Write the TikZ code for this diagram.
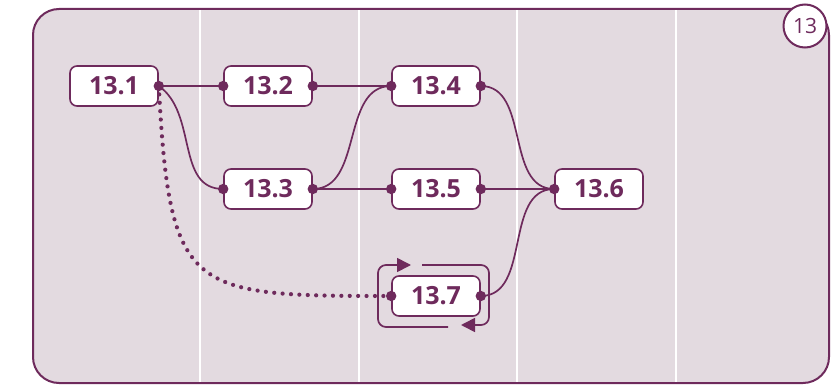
\documentclass[tikz,border=0pt]{standalone}
\usepackage{fontspec}
\setmainfont{Open Sans}
\usetikzlibrary{arrows.meta,positioning}
\definecolor{plum}{RGB}{110,42,92}
\definecolor{lane}{RGB}{227,218,224}

\tikzset{
  task/.style={draw=plum, line width=0.8pt, fill=white, rounded corners=3.5pt,
    minimum width=44pt, minimum height=20pt, inner sep=0pt,
    font=\fontsize{12.5}{14}\selectfont\bfseries, text=plum},
  link/.style={draw=plum, line width=0.85pt},
  loop/.style={draw=plum, line width=0.85pt, rounded corners=4pt,
    -{Triangle[length=7pt,width=7pt]}},
}

\begin{document}
\begin{tikzpicture}[x=0.5pt,y=-0.5pt]
  \useasboundingbox (0,0) rectangle (834,385);

  % panel and lanes
  \fill[lane, rounded corners=13pt] (33,9) rectangle (829,383);
  \foreach \lx in {200,359,517,676}
    \draw[white, line width=1pt] (\lx,9) -- (\lx,383);
  \draw[plum, line width=1pt, rounded corners=13pt] (33,9) rectangle (829,383);
  \node[circle, draw=plum, line width=1pt, fill=white, minimum size=21.5pt,
    inner sep=0pt, font=\fontsize{10.5}{12}\selectfont, text=plum] (tag) at (805,26) {13};

  % tasks
  \node[task] (t1) at (114,86) {13.1};
  \node[task] (t2) at (268,86) {13.2};
  \node[task] (t4) at (436,86) {13.4};
  \node[task] (t3) at (268,189) {13.3};
  \node[task] (t5) at (436,189) {13.5};
  \node[task] (t6) at (599,189) {13.6};
  \node[task] (t7) at (436,296) {13.7};

  % links
  \draw[link] (t1.east) -- (t2.west);
  \draw[link] (t1.east) to[out=-35,in=180] (t3.west);
  \draw[link] (t2.east) -- (t4.west);
  \draw[link] (t3.east) to[out=0,in=180] (t4.west);
  \draw[link] (t3.east) -- (t5.west);
  \draw[link] (t4.east) to[out=0,in=180] (t6.west);
  \draw[link] (t5.east) -- (t6.west);
  \draw[link] (t7.east) to[out=0,in=180] (t6.west);
  \draw[plum, line width=2.1pt, line cap=round, dash pattern=on 0pt off 4.2pt]
    (t1.east) to[out=-87,in=180,out looseness=1.7,in looseness=1.65] (t7.west);

  % repeat loop round 13.7
  \draw[loop] (448,327) -- (378,327) -- (378,265) -- (411,265);
  \draw[loop] (422,265) -- (489,265) -- (489,325) -- (461,325);

  % dots
  \foreach \p in {t1.east,t2.west,t2.east,t3.west,t3.east,t4.west,t4.east,
    t5.west,t5.east,t6.west,t7.west,t7.east}
    \fill[plum] (\p) circle (2.6pt);
\end{tikzpicture}
\end{document}
